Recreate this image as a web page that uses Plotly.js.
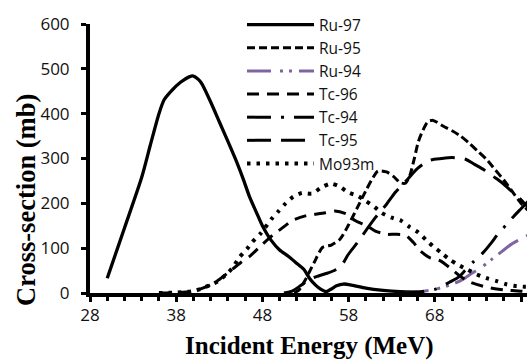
<!DOCTYPE html>
<html><head><meta charset="utf-8">
<script src="https://cdn.plot.ly/plotly-3.0.1.min.js"></script>
<style>html,body{margin:0;padding:0;background:#fff}#chart{width:527px;height:360px}</style>
</head><body><div id="chart"></div>
<script>
// Incident energy (MeV) / cross-section (mb) for each product
const ru97X = [30,32,34,35,36,36.6,37.5,38.5,39.5,40,40.6,41,42,43,44,45,45.8,46.5,47.3,48,49,50,51,52,52.8,53.5,54.2,54.8,55.4,56,56.6,57.4,58.5,60,62,64,66];
const ru97Y = [33,145,258,330,400,431,452,470,482,484,476,466,426,382,338,293,253,215,180,150,118,96,82,66,53,32,17,8,3,9,16,20,17,11,6,3,2];

const ru95X = [51.7,52.3,53,54,55,56,57,58,59,60,60.7,61.4,62.4,63.2,64,64.6,65.1,65.6,66.1,66.6,67.2,67.8,69,70,71,72,73,74,75,76,77,78,78.8];
const ru95Y = [0,8,30,68,102,107,120,152,190,228,253,272,270,260,246,245,262,298,338,362,382,385,372,362,350,334,316,298,275,252,226,200,185];

const ru94X = [64.5,66,68,70.1,71.3,72.3,73.4,74.6,75.8,76.9,78.6,78.8];
const ru94Y = [0,2,8,20,31,44,57,75,93,109,127,129];

const tc96X = [36,38,40,42,43,44,45.5,46.6,47.8,49.3,50.1,51.5,53,54,55.3,56.4,57.8,58.8,60.1,61.1,62.4,63.4,64.6,65.5,66.3,67.4,68.6,69.7,70.9,72,74,76,78,78.8];
const tc96Y = [0,1,4,18,30,45,68,83,105,131,142,162,172,175,179,183,176,161,150,138,131,131,129,113,94,79,72,57,38,25,13,7,4,3];

const tc94X = [64,66,68,69.7,70.8,71.5,72.5,73.6,74.6,75.3,76.2,77.2,78,78.8];
const tc94Y = [0,2,8,24,36,50,70,90,113,131,150,172,188,204];

const tc95X = [50.5,51.5,52.4,53.5,54.5,55.5,56.5,57.2,58,59,59.7,61.1,62.4,63.4,64.9,66,67.4,68.8,70,71.5,72.6,73.7,74.7,75.8,76.9,77.8,78.8];
const tc95Y = [0,5,16,31,38,44,52,62,87,112,131,168,198,224,255,278,296,300,302,299,287,275,261,246,227,212,192];

const mo93mX = [36,38,40,40.8,42,42.9,44,44.6,45.3,46.2,46.8,47.8,49.1,49.9,50.7,51.6,52.6,53.8,54.8,55.9,56.9,58,59.1,60,61,61.8,63,64.1,65.1,66.1,67,67.8,68.8,69.7,70.7,71.8,72.8,74,75.1,76.2,77.2,78.4,78.8];
const mo93mY = [0,1,4,9,18,27,45,58,79,98,113,133,166,183,200,215,223,222,235,244,238,224,216,205,192,179,168,161,147,135,118,104,89,75,63,52,42,33,27,20,16,14,14];

const seriesNames = ['Ru-97','Ru-95','Ru-94','Tc-96','Tc-94','Tc-95','Mo93m'];
const xTickVals = [28,38,48,58,68,78];
const yTickVals = [0,100,200,300,400,500,600];

function tr(name, x, y, color, width, dash) {
  return {type:'scatter', mode:'lines', name:name, x:x, y:y,
    line:{color:color, width:width, dash:dash, shape:'spline', smoothing:0.7},
    hoverinfo:'skip'};
}

const traces = [
  tr(seriesNames[0], ru97X, ru97Y, '#000000', 3.3, 'solid'),
  tr(seriesNames[1], ru95X, ru95Y, '#000000', 3, '8px,4px'),
  tr(seriesNames[2], ru94X, ru94Y, '#8064A2', 3, '24px,9px,3px,6px,3px,7px'),
  tr(seriesNames[3], tc96X, tc96Y, '#000000', 3, '12px,8px'),
  tr(seriesNames[4], tc94X, tc94Y, '#000000', 3, '24px,10px,3px,10px'),
  tr(seriesNames[5], tc95X, tc95Y, '#000000', 3, '24px,10px'),
  tr(seriesNames[6], mo93mX, mo93mY, '#000000', 4, '3.5px,6px')
];

const tickFont = {family:'Open Sans, Noto Sans, sans-serif', size:17, color:'#111111'};
const titleFont = {family:'Liberation Serif, Times New Roman, serif', size:25, color:'#000000', weight:'bold'};

const L = 90, R = 0, T = 24, B = 67, W = 527, H = 360;
const plotW = W - L - R, plotH = H - T - B;

const layout = {
  width:W, height:H,
  margin:{l:L, r:R, t:T, b:B, pad:0},
  paper_bgcolor:'#ffffff', plot_bgcolor:'#ffffff',
  showlegend:true,
  legend:{x:(242 - L)/plotW, y:1 + (T - 8)/plotH, xanchor:'left', yanchor:'top',
    bgcolor:'rgba(0,0,0,0)', borderwidth:0, itemwidth:67, tracegroupgap:0,
    font:{family:'Open Sans, Noto Sans, sans-serif', size:15.5, color:'#111111'}},
  xaxis:{range:[28, 28 + plotW/8.62], tickmode:'array', tickvals:xTickVals,
    ticktext:xTickVals.map(String),
    showline:true, linecolor:'#000', linewidth:4, showgrid:false, zeroline:false,
    ticks:'outside', ticklen:5, tickwidth:3, tickcolor:'#000',
    minor:{dtick:2, tick0:28, ticks:'outside', ticklen:4, tickwidth:3, tickcolor:'#000', showgrid:false},
    tickfont:tickFont, ticklabelstandoff:-1, fixedrange:true},
  yaxis:{range:[0,600], tickmode:'array', tickvals:yTickVals, ticktext:yTickVals.map(String),
    showline:true, linecolor:'#000', linewidth:4, showgrid:false, zeroline:false,
    ticks:'outside', ticklen:5, tickwidth:3, tickcolor:'#000',
    tickfont:tickFont, ticklabelstandoff:8, fixedrange:true},
  annotations:[
    {text:'Incident Energy (MeV)', xref:'paper', yref:'paper', x:(309 - L)/plotW, y:-(346 - (T+plotH))/plotH,
     xanchor:'center', yanchor:'middle', showarrow:false, font:titleFont},
    {text:'Cross-section (mb)', xref:'paper', yref:'paper', x:(26 - L)/plotW, y:1 - (200 - T)/plotH,
     xanchor:'center', yanchor:'middle', showarrow:false, textangle:-90,
     font:Object.assign({}, titleFont, {size:26.5})}
  ]
};

Plotly.newPlot('chart', traces, layout, {displayModeBar:false, staticPlot:true});
</script>
</body></html>
